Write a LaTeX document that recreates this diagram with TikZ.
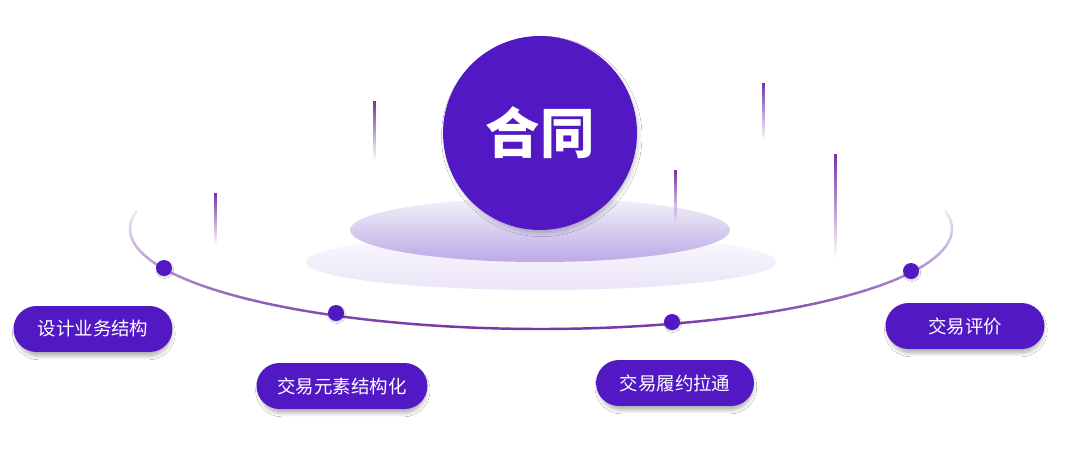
\documentclass[tikz,border=0pt]{standalone}
\usepackage{fontspec}
\newfontfamily\cjk{Noto Sans CJK SC}
\usetikzlibrary{positioning, fadings, shadows.blur}

\definecolor{mainpurple}{HTML}{5218C4}
\definecolor{orbitpurple}{HTML}{7434A6}
\definecolor{glowtop}{HTML}{F3F2F9}
\definecolor{glowbottom}{HTML}{BCA9E7}
\definecolor{basetop}{HTML}{FAF9FD}
\definecolor{basebottom}{HTML}{EBE5F8}

\begin{document}
\begin{tikzpicture}[
    x=0.02cm, y=-0.02cm, % 1 單位 = 1 像素, y 向下
    pill/.style={rectangle, rounded corners=0.46cm, fill=mainpurple, text=white,
        minimum width=3.18cm, minimum height=0.92cm,
        font=\cjk\fontsize{10.5}{12}\selectfont,
        blur shadow={shadow xshift=0.5pt, shadow yshift=-2.5pt, shadow scale=0.97,
            shadow blur radius=2.5pt, shadow blur steps=10, shadow opacity=35}},
    dot/.style={circle, fill=mainpurple, inner sep=0pt, minimum size=0.32cm,
        blur shadow={shadow xshift=0.5pt, shadow yshift=-1pt, shadow scale=0.9,
            shadow blur radius=1pt, shadow opacity=25}},
    orbit/.style={line width=1.4pt, line cap=round},
    pin/.style={fill=orbitpurple, path fading=south}
]

    % --- 1. 背景 ---
    \fill[white] (0,0) rectangle (1070,462);

    % --- 2. 軌道 (兩端淡出) ---
    \foreach \a in {-10,-8,...,188}{
        \pgfmathtruncatemacro\p{max(0,25+75*sin(\a+1))}
        \draw[orbit, color=orbitpurple!\p!white]
            ([shift={(541,229)}]\a:411 and 100) arc[start angle=\a, delta angle=2, x radius=411, y radius=100];
    }

    % --- 3. 底座橢圓 ---
    \shade[top color=basetop, bottom color=basebottom] (541,262) ellipse [x radius=235, y radius=28];
    \shade[top color=glowtop, bottom color=glowbottom] (540,230) ellipse [x radius=190, y radius=32];

    % --- 4. 豎線 ---
    \fill[pin] (213.5,193) rectangle (216.5,245);
    \fill[pin] (372.5,101) rectangle (375.5,160);
    \fill[pin] (673.5,170) rectangle (676.5,222);
    \fill[pin] (761.5,83) rectangle (764.5,140);
    \fill[pin] (833.5,154) rectangle (836.5,258);

    % --- 5. 中心圓 ---
    \node[circle, fill=mainpurple, minimum size=3.88cm, text=white,
        font=\cjk\bfseries\fontsize{31}{36}\selectfont,
        blur shadow={shadow xshift=1pt, shadow yshift=-2pt, shadow scale=0.98,
            shadow blur radius=3pt, shadow blur steps=10, shadow opacity=30}]
        (hetong) at (540,133) {合同};

    % --- 6. 軌道上的點 ---
    \node[dot] (dot_design) at (164,268) {};
    \node[dot] (dot_element) at (336,313) {};
    \node[dot] (dot_fulfil) at (672,322) {};
    \node[dot] (dot_review) at (911,271) {};

    % --- 7. 標籤 ---
    \node[pill] (lbl_design) at (93,329) {设计业务结构};
    \node[pill, minimum width=3.42cm] (lbl_element) at (342,386) {交易元素结构化};
    \node[pill, minimum width=3.16cm] (lbl_fulfil) at (675,383) {交易履约拉通};
    \node[pill] (lbl_review) at (965,326) {交易评价};

\end{tikzpicture}
\end{document}
